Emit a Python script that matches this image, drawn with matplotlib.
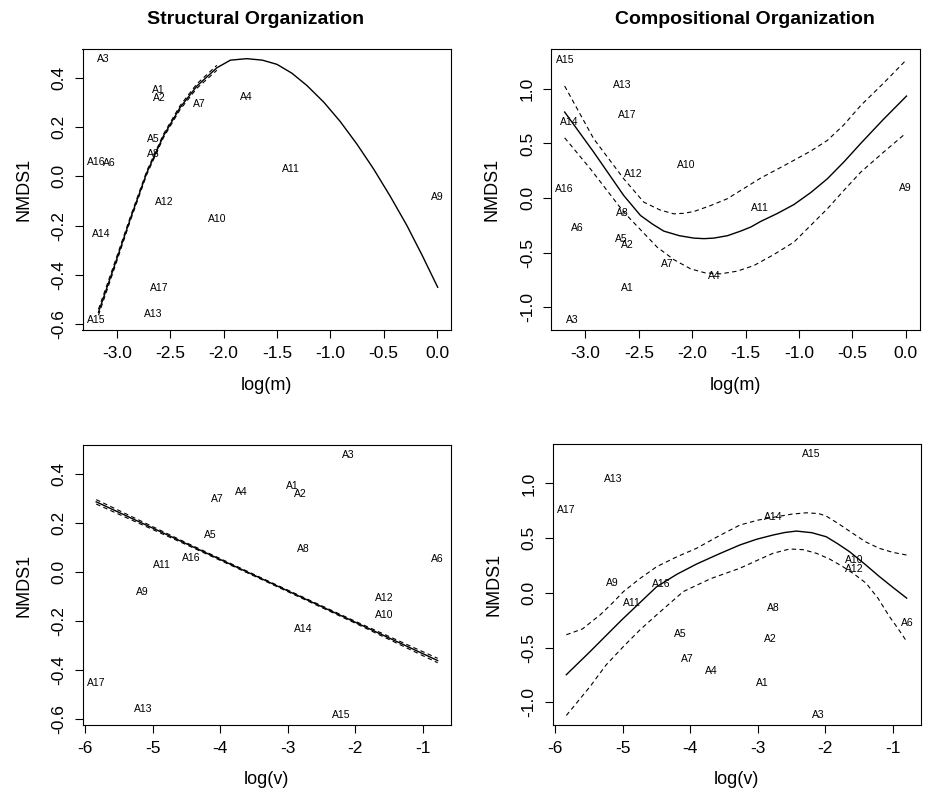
import numpy as np
import matplotlib.pyplot as plt

plt.rcParams['font.family'] = ['Liberation Sans', 'DejaVu Sans']
plt.rcParams['axes.unicode_minus'] = False

W, H = 931, 796

# sites and their positions
sites = ["A1", "A2", "A3", "A4", "A5", "A6", "A7", "A8", "A9", "A10",
         "A11", "A12", "A13", "A14", "A15", "A16", "A17"]
log_m = [-2.61, -2.605, -3.125, -1.79, -2.66, -3.075, -2.23, -2.655, 0.0, -2.055,
         -1.368, -2.555, -2.657, -3.147, -3.19, -3.194, -2.605]
log_v = [-2.93, -2.81, -2.11, -3.685, -4.155, -0.79, -4.04, -2.765, -5.155, -1.58,
         -4.865, -1.57, -5.15, -2.77, -2.21, -4.435, -5.838]
nmds_struct = [0.35, 0.316, 0.474, 0.323, 0.15, 0.053, 0.295, 0.092, -0.082, -0.174,
               0.029, -0.106, -0.558, -0.234, -0.581, 0.056, -0.454]
nmds_comp = [-0.824, -0.426, -1.113, -0.713, -0.378, -0.272, -0.606, -0.138, 0.092, 0.305,
             -0.089, 0.219, 1.038, 0.693, 1.266, 0.083, 0.757]

# structural ~ log(m): fitted curve, narrow band on the left part
fit1_x = [-3.172, -3.032, -2.875, -2.719, -2.563, -2.407, -2.25, -2.063, -1.936, -1.782,
          -1.637, -1.5, -1.36, -1.219, -1.06, -0.907, -0.75, -0.595, -0.44, -0.282,
          -0.14, 0.006]
fit1_y = [-0.551, -0.375, -0.174, 0.015, 0.164, 0.279, 0.366, 0.44, 0.471, 0.477,
          0.471, 0.454, 0.418, 0.368, 0.30, 0.222, 0.13, 0.03, -0.08, -0.2,
          -0.32, -0.45]
band1_hw = [0.012, 0.010, 0.008, 0.007, 0.007, 0.008, 0.009, 0.010]

# compositional ~ log(m)
fit2_x = [-3.194, -2.922, -2.641, -2.484, -2.37, -2.266, -2.12, -1.985, -1.89, -1.797,
          -1.67, -1.547, -1.45, -1.36, -1.2, -1.048, -0.89, -0.735, -0.58, -0.422,
          -0.21, 0.006]
fit2_y = [0.787, 0.42, 0.023, -0.16, -0.24, -0.303, -0.345, -0.367, -0.372, -0.367,
          -0.345, -0.303, -0.265, -0.215, -0.14, -0.06, 0.05, 0.176, 0.33, 0.5,
          0.72, 0.933]
up2_x = [-3.194, -2.922, -2.641, -2.453, -2.3, -2.172, -2.08, -1.985, -1.83, -1.672,
         -1.52, -1.36, -1.2, -1.048, -0.89, -0.735, -0.58, -0.422, -0.21, -0.01]
up2_y = [1.025, 0.542, 0.176, -0.038, -0.11, -0.145, -0.14, -0.124, -0.07, -0.007,
         0.085, 0.182, 0.265, 0.345, 0.43, 0.527, 0.67, 0.847, 1.05, 1.25]
lo2_x = [-3.194, -2.953, -2.641, -2.328, -2.17, -2.016, -1.88, -1.735, -1.58, -1.422,
         -1.24, -1.048, -0.89, -0.735, -0.58, -0.422, -0.22, -0.017]
lo2_y = [0.551, 0.267, -0.129, -0.45, -0.565, -0.648, -0.685, -0.694, -0.67, -0.618,
         -0.52, -0.404, -0.25, -0.099, 0.07, 0.237, 0.41, 0.579]

# structural ~ log(v): straight fit
fit3_x = [-5.84, -0.781]
fit3_y = [0.285, -0.361]
band3_x = [-5.84, -4.5, -3.3, -2.0, -0.781]
band3_hw = [0.009, 0.004, 0.003, 0.004, 0.009]

# compositional ~ log(v)
fit4_x = [-5.838, -5.483, -5.015, -4.498, -4.2, -3.907, -3.58, -3.267, -3.02, -2.775,
          -2.6, -2.43, -2.2, -1.987, -1.82, -1.643, -1.42, -1.2, -1.0, -0.796]
fit4_y = [-0.748, -0.535, -0.246, 0.057, 0.17, 0.264, 0.355, 0.438, 0.49, 0.529,
          0.552, 0.565, 0.55, 0.513, 0.45, 0.377, 0.265, 0.149, 0.05, -0.048]
up4_x = [-5.838, -5.6, -5.335, -5.15, -4.991, -4.75, -4.498, -4.2, -3.907, -3.58,
         -3.267, -3.0, -2.775, -2.5, -2.282, -2.1, -1.987, -1.8, -1.594, -1.4,
         -1.2, -1.0, -0.796]
up4_y = [-0.383, -0.33, -0.2, -0.09, 0.012, 0.13, 0.24, 0.33, 0.408, 0.52,
         0.62, 0.665, 0.69, 0.72, 0.732, 0.725, 0.702, 0.63, 0.544, 0.465,
         0.407, 0.37, 0.346]
lo4_x = [-5.838, -5.483, -5.25, -4.991, -4.75, -4.498, -4.105, -3.7, -3.267, -3.0,
         -2.775, -2.529, -2.33, -2.135, -1.94, -1.742, -1.57, -1.396, -1.22, -1.052,
         -0.92, -0.796]
lo4_y = [-1.121, -0.854, -0.66, -0.49, -0.34, -0.2, 0.012, 0.13, 0.225, 0.3,
         0.362, 0.401, 0.395, 0.362, 0.31, 0.24, 0.17, 0.088, -0.05, -0.216,
         -0.33, -0.444]

ticks_m = [-3.0, -2.5, -2.0, -1.5, -1.0, -0.5, 0.0]
ticks_v = [-6, -5, -4, -3, -2, -1]
ticks_s = [-0.6, -0.4, -0.2, 0.0, 0.2, 0.4]
ticks_c = [-1.0, -0.5, 0.0, 0.5, 1.0]


def rlim(v):
    # R style axis range: data range plus 4% on each side
    lo, hi = min(v), max(v)
    d = (hi - lo) * 0.04
    return lo - d, hi + d


def panel(rect, x, y, xt, xfmt, yt, yfmt, xlabel):
    L, R, T, B = rect
    ax = fig.add_axes([L / W, 1 - B / H, (R - L) / W, (B - T) / H])
    ax.set_xlim(rlim(x))
    ax.set_ylim(rlim(y))
    for s, xi, yi in zip(sites, x, y):
        ax.text(xi, yi, s, ha='center', va='center', fontsize=7.5)
    ax.set_xticks(xt)
    ax.set_xticklabels([xfmt % t for t in xt])
    ax.set_yticks(yt)
    ax.set_yticklabels([yfmt % t for t in yt], rotation=90, va='center')
    ax.tick_params(direction='out', length=5.5, width=0.8, labelsize=12.5, pad=6)
    for sp in ax.spines.values():
        sp.set_linewidth(0.8)
    fig.text((L + R) / 2 / W, 1 - (B + 55) / H, xlabel, ha='center', va='center', fontsize=13)
    fig.text((L - 59) / W, 1 - (T + B) / 2 / H, "NMDS1", ha='center', va='center',
             rotation=90, fontsize=13)
    return ax


fig = plt.figure(figsize=(W / 100, H / 100), dpi=100)
dash = dict(color='black', lw=0.8, linestyle=(0, (4, 3)))

ax1 = panel((82.5, 450.7, 49, 330), log_m, nmds_struct, ticks_m, "%.1f", ticks_s, "%.1f", "log(m)")
ax1.plot(fit1_x, fit1_y, color='black', lw=1.0)
n = len(band1_hw)
ax1.plot(fit1_x[:n], np.array(fit1_y[:n]) + band1_hw, **dash)
ax1.plot(fit1_x[:n], np.array(fit1_y[:n]) - band1_hw, **dash)

ax2 = panel((551, 919.5, 49.3, 330), log_m, nmds_comp, ticks_m, "%.1f", ticks_c, "%.1f", "log(m)")
ax2.plot(fit2_x, fit2_y, color='black', lw=1.0)
ax2.plot(up2_x, up2_y, **dash)
ax2.plot(lo2_x, lo2_y, **dash)

ax3 = panel((82.7, 450.7, 445, 725), log_v, nmds_struct, ticks_v, "%d", ticks_s, "%.1f", "log(v)")
ax3.plot(fit3_x, fit3_y, color='black', lw=1.0)
line3 = np.interp(band3_x, fit3_x, fit3_y)
ax3.plot(band3_x, line3 + band3_hw, **dash)
ax3.plot(band3_x, line3 - band3_hw, **dash)

ax4 = panel((552.7, 920.7, 444, 725), log_v, nmds_comp, ticks_v, "%d", ticks_c, "%.1f", "log(v)")
ax4.plot(fit4_x, fit4_y, color='black', lw=1.0)
ax4.plot(up4_x, up4_y, **dash)
ax4.plot(lo4_x, lo4_y, **dash)

fig.text(256 / W, 1 - 20 / H, "Structural Organization", ha='center', va='center',
         fontsize=14, fontweight='bold')
fig.text(745 / W, 1 - 20 / H, "Compositional Organization", ha='center', va='center',
         fontsize=14, fontweight='bold')

fig.savefig("out.png", dpi=100)
